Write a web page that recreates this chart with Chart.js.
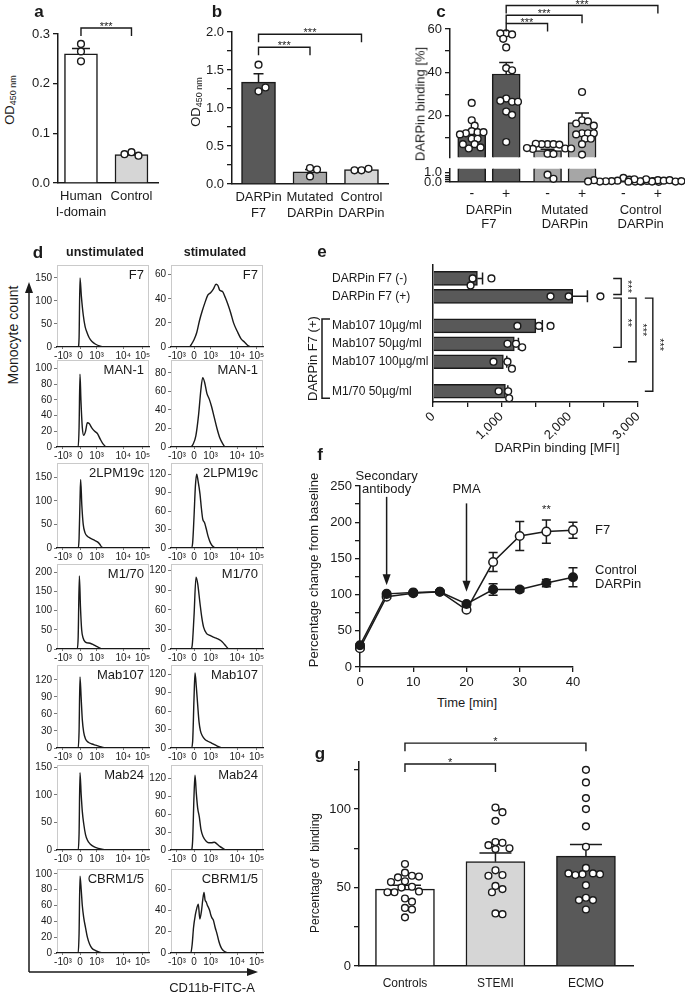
<!DOCTYPE html>
<html>
<head>
<meta charset="utf-8">
<title>DARPin F7 binding to CD11b</title>
<script src="https://cdn.jsdelivr.net/npm/chart.js@4.4.1/dist/chart.umd.min.js"></script>
<style>
  body { margin: 0; width: 685px; height: 996px; position: relative; overflow: hidden; background: #fff; color: #1a1a1a; font-family: "Liberation Sans", Arial, sans-serif; }
  .t { position: absolute; white-space: nowrap; line-height: 1; transform: translate(-50%, -50%); font-size: 13px; }
  .t.up { transform: translate(-50%, -50%) rotate(-90deg); }
  .t.b { font-weight: bold; }
  sub { font-size: 9px; vertical-align: -2px; }
</style>
</head>
<body>
<svg width="685" height="996" style="position:absolute;left:0;top:0">
  <path d="M29 972 V292 M29 972 H248" stroke="#1a1a1a" stroke-width="1.5" fill="none"/>
  <path d="M29 282 L25 293 H33 Z M258 972 L247 968 V976 Z" fill="#1a1a1a"/>
</svg>
<script>
// a - ELISA on the I-domain
const aCats = [['Human', 'I-domain'], 'Control']
const aMeans = [0.26, 0.057]
const aSem = [0.011, 0.003]
const aPoints = [[0.28, 0.265, 0.245], [0.062, 0.055, 0.058]]

// b - DARPin ELISA
const bCats = [['DARPin', 'F7'], ['Mutated', 'DARPin'], ['Control', 'DARPin']]
const bMeans = [1.34, 0.16, 0.19]
const bSem = [0.11, 0.03, 0.01]
const bPoints = [[1.57, 1.22, 1.27], [0.21, 0.1, 0.19], [0.18, 0.2, 0.18]]

// c - binding on unstimulated (-) and stimulated (+) cells
const cGroups = [['DARPin', 'F7'], ['Mutated', 'DARPin'], ['Control', 'DARPin']]
const cSigns = ['-', '+', '-', '+', '-', '+']
const cMeans = [11.8, 39.3, 4.1, 16.9, 0.12, 0.14]
const cSem = [1.5, 5.3, 0.6, 4.4, 0.04, 0.03]
const cPoints = [
  [26, 18, 15.5, 13, 12.5, 12, 12.5, 11.5, 9.5, 9.5, 7, 5, 5.5, 7],
  [58, 57.5, 58, 55.5, 51.5, 42, 41, 28, 26.5, 27, 26.5, 22, 20.5, 8],
  [7, 7, 7, 6.8, 7.2, 5, 4.8, 5.2, 5, 2.6, 2.5, 0.8, 0.35],
  [31, 18, 17.5, 16.5, 15.5, 12, 12, 11.5, 12, 9.5, 9.5, 7, 2.2],
  [0.45, 0.25, 0.15, 0.05, 0.1, 0.05, 0.08, 0.12, 0.05, 0.1, 0.2, 0.02, 0.06],
  [0.2, 0.15, 0.05, 0.2, 0.3, 0.05, 0.08, 0.1, 0.3, 0.12, 0.04, 0.2]
]

// d - flow histograms, [channel, count]; channel is the logicle display scale 0..100
const flowTicks = [6.5, 25, 43, 72, 93]
const flowLabels = ['-10³', '0', '10³', '10⁴', '10⁵']
const histNames = ['F7', 'MAN-1', '2LPM19c', 'M1/70', 'Mab107', 'Mab24', 'CBRM1/5']
const dF7U = [[0, 0], [23, 0], [24, 20], [25, 150], [26.5, 110], [28.5, 70], [30.5, 45], [32.5, 32], [35, 20], [38, 12], [42, 6], [47, 2], [52, 0], [100, 0]]
const dF7S = [[0, 0], [20, 0], [22, 2], [25, 6], [28, 12], [31, 22], [34, 30], [37, 37], [40, 43], [43, 45], [46, 48], [49, 52], [51, 51], [53, 47], [56, 46], [59, 41], [62, 35], [65, 28], [68, 20], [72, 13], [76, 7], [80, 4], [84, 1], [88, 0], [100, 0]]
const dMan1U = [[0, 0], [23, 0], [24, 25], [25, 93], [26, 60], [27.5, 25], [29, 15], [31, 20], [33, 31], [35, 30], [38, 24], [41, 20], [44, 17], [47, 10], [50, 4], [54, 0], [100, 0]]
const dMan1S = [[0, 0], [21, 0], [24, 3], [27, 12], [30, 35], [32.5, 62], [34.5, 75], [36.5, 70], [39, 58], [41.5, 52], [44, 44], [47, 32], [50, 20], [53, 10], [56, 4], [59, 0], [100, 0]]
const dLpmU = [[0, 0], [23, 0], [24, 20], [25, 100], [25.7, 145], [27, 90], [28.5, 50], [30.5, 32], [33, 25], [36, 21], [40, 17], [44, 13], [46.5, 8], [48.5, 2], [51, 0], [100, 0]]
const dLpmS = [[0, 0], [22, 0], [23.5, 8], [25, 50], [26.5, 100], [27.9, 120], [29.5, 108], [31.5, 88], [33, 65], [34.5, 47], [36.5, 41], [38.5, 30], [40.5, 18], [43, 8], [46, 2], [49, 0], [100, 0]]
const dM170U = [[0, 0], [22, 0], [23, 30], [24.3, 190], [25.5, 110], [26.8, 50], [28.5, 28], [30.5, 19], [33, 16], [36, 15], [39, 12], [42, 8], [45, 4], [48, 1], [51, 0], [100, 0]]
const dM170S = [[0, 0], [21.5, 0], [23, 5], [25, 50], [27.2, 110], [29, 100], [31.5, 70], [33.5, 48], [35.5, 33], [38.5, 24], [42, 21], [46, 18], [50, 16], [54, 13], [57, 9], [60, 4], [63, 0], [100, 0]]
const dMab107U = [[0, 0], [23, 0], [24, 30], [25, 125], [26.2, 90], [27.5, 50], [29, 28], [31, 16], [34, 10], [38, 7], [42, 5], [46, 3], [50, 1], [54, 0], [100, 0]]
const dMab107S = [[0, 0], [22, 0], [23.5, 10], [25, 80], [26.1, 122], [27.5, 100], [29, 70], [30.5, 42], [32, 28], [34, 20], [37, 14], [40, 11], [44, 8], [48, 5], [52, 2], [56, 0], [100, 0]]
const dMab24U = [[0, 0], [23, 0], [24, 30], [25, 140], [26.3, 100], [27.5, 70], [29, 48], [31, 28], [33, 18], [36, 11], [40, 6], [45, 3], [50, 1], [55, 0], [100, 0]]
const dMab24S = [[0, 0], [22, 0], [23.5, 15], [25, 90], [26.1, 125], [27.5, 95], [29, 70], [30.8, 55], [32.5, 35], [35, 22], [38, 15], [41, 12], [44, 12], [47, 13], [50, 10], [53, 6], [56, 3], [60, 0], [100, 0]]
const dCbrmU = [[0, 0], [23, 0], [24, 25], [25, 97], [26.3, 80], [27.5, 60], [29, 45], [31, 32], [33, 20], [35.5, 11], [38, 6], [42, 3], [46, 1], [50, 0], [100, 0]]
const dCbrmS = [[0, 0], [21.5, 0], [23, 8], [24.5, 24], [26.5, 36], [28, 42], [29.7, 46], [31.3, 32], [33.2, 40], [34.5, 50], [35.9, 57], [37, 50], [38.3, 48], [39.5, 45], [40.6, 43], [42, 40], [43.2, 36], [44.5, 33], [46, 31], [48, 24], [50, 18], [52, 11], [54, 6], [56, 3], [59, 1], [62, 0], [100, 0]]
const unstimCounts = [dF7U, dMan1U, dLpmU, dM170U, dMab107U, dMab24U, dCbrmU]
const stimCounts = [dF7S, dMan1S, dLpmS, dM170S, dMab107S, dMab24S, dCbrmS]
// [tick step, axis max] of each count axis
const unstimAxis = [[50, 178], [20, 111], [50, 180], [50, 221], [30, 146], [50, 154], [20, 106]]
const stimAxis = [[20, 68], [20, 94], [30, 138], [30, 130], [30, 135], [30, 142], [20, 79]]

// e - MFI with blocking antibodies
const eRows = ['DARPin F7 (-)', 'DARPin F7 (+)', 'Mab107 10µg/ml', 'Mab107 50µg/ml', 'Mab107 100µg/ml', 'M1/70 50µg/ml']
const eMeans = [650, 2045, 1505, 1190, 1030, 1060]
const eSem = [75, 215, 95, 60, 50, 35]
const ePoints = [[580, 550, 855], [1720, 1985, 2450], [1235, 1550, 1720], [1090, 1215, 1305], [885, 1090, 1155], [960, 1100, 1115]]

// f - time course
const fTimes = [0, 5, 10, 15, 20, 25, 30, 35, 40]
const fF7 = [26, 97, 102, 104, 79, 145, 181, 187, 189]
const fF7Sem = [2, 2, 2, 2, 2, 13, 20, 16, 11]
const fCtrl = [30, 101, 103, 104, 87, 107, 107, 116, 124]
const fCtrlSem = [2, 2, 2, 2, 2, 8, 3, 5, 13]

// g - patient groups
const gCats = ['Controls', 'STEMI', 'ECMO']
const gMeans = [49, 66.5, 70]
const gSem = [2.5, 5.5, 7.5]
const gPoints = [
  [65, 59.5, 57.5, 56.5, 57, 54, 53.5, 50.5, 50, 47, 47.5, 47, 43, 41, 37, 36, 31],
  [101, 98, 92.5, 79, 78.5, 77, 75, 74.5, 61, 58, 57.5, 51, 49, 47, 33.5, 33],
  [125, 117, 107, 100, 89, 76, 62.5, 59, 58.5, 58, 58.5, 59, 51.5, 43.5, 42, 42, 36]
]

const FAMILY = '"Liberation Sans", Arial, sans-serif'
const INK = '#1a1a1a'
const DARK = '#595959'
const MID = '#a6a6a6'
const LIGHT = '#d6d6d6'

Chart.defaults.font.family = FAMILY
Chart.defaults.font.size = 13
Chart.defaults.color = INK
Chart.defaults.animation = false
Chart.defaults.responsive = false
Chart.defaults.events = []
Chart.defaults.plugins.legend.display = false
Chart.defaults.plugins.tooltip.enabled = false

const merge = (a, b) => {
  const out = { ...a }
  for (const k in b) {
    const v = b[k]
    out[k] = v && typeof v === 'object' && !Array.isArray(v) ? merge(a[k] || {}, v) : v
  }
  return out
}
const range = (from, to, step) => {
  const out = []
  for (let v = from; v <= to + 1e-9; v += step) out.push(+v.toFixed(6))
  return out
}
const setTicks = values => s => { s.ticks = values.map(value => ({ value })) }

const label = (html, x, y, cls = '', style = '') => {
  const d = document.createElement('div')
  d.className = 't ' + cls
  d.innerHTML = html
  d.style.cssText = `left:${x}px;top:${y}px;${style}`
  document.body.appendChild(d)
}

// canvas placed so that the plot area lands exactly on `area`
const makeChart = (area, pad, config) => {
  const w = area.r - area.l + pad.left + pad.right
  const h = area.b - area.t + pad.top + pad.bottom
  const canvas = document.createElement('canvas')
  canvas.width = w
  canvas.height = h
  canvas.style.cssText = `position:absolute;left:${area.l - pad.left}px;top:${area.t - pad.top}px`
  document.body.appendChild(canvas)
  const o = config.options
  const yw = pad.yw || pad.left
  o.layout = { padding: { top: pad.top, right: pad.right, left: pad.left - yw, bottom: 0 } }
  if (o.scales.x.display === false) o.layout.padding.bottom = pad.bottom
  else o.scales.x.afterFit = s => { s.height = pad.bottom }
  if (o.scales.y.display === false) o.layout.padding.left = pad.left
  else o.scales.y.afterFit = s => { s.width = yw }
  return new Chart(canvas, config)
}

// push dots sideways until they stop overlapping, like a small beeswarm
const swarm = (values, pos, toPx, pxPerPos, flip, gap = 7) => {
  const placed = []
  return values.map(v => {
    const py = toPx(v)
    let off = 0
    for (let k = 0; ; k++) {
      off = (k % 2 ? 1 : -1) * Math.ceil(k / 2) * gap / 2
      if (placed.every(p => Math.hypot(p.off - off, p.py - py) >= gap)) break
    }
    placed.push({ off, py })
    const at = pos + off / pxPerPos
    return flip ? { x: v, y: at } : { x: at, y: v }
  })
}

const drawErr = (chart, i, behind) => {
  const ds = chart.data.datasets[i]
  const e = ds.errorBars
  if (!e || !!e.behind !== behind) return
  const meta = chart.getDatasetMeta(i)
  const horiz = chart.options.indexAxis === 'y'
  const vScale = horiz ? chart.scales.x : chart.scales.y
  const { ctx, chartArea: a } = chart
  ctx.save()
  if (e.clip) { ctx.beginPath(); ctx.rect(a.left, a.top, a.width, a.height); ctx.clip() }
  ctx.strokeStyle = INK
  ctx.lineWidth = 1.5
  meta.data.forEach((el, j) => {
    const p = meta.controller.getParsed(j)
    const v = horiz ? p.x : p.y
    const hi = vScale.getPixelForValue(v + e.sem[j])
    const lo = vScale.getPixelForValue(e.both ? v - e.sem[j] : v)
    const c = horiz ? el.y : el.x
    const w = e.cap / 2
    ctx.beginPath()
    if (horiz) {
      ctx.moveTo(lo, c); ctx.lineTo(hi, c); ctx.moveTo(hi, c - w); ctx.lineTo(hi, c + w)
    } else {
      ctx.moveTo(c, lo); ctx.lineTo(c, hi); ctx.moveTo(c - w, hi); ctx.lineTo(c + w, hi)
      if (e.both) { ctx.moveTo(c - w, lo); ctx.lineTo(c + w, lo) }
    }
    ctx.stroke()
  })
  ctx.restore()
}
const errorBars = {
  id: 'errorBars',
  beforeDatasetDraw (chart, args) { drawErr(chart, args.index, true) },
  afterDatasetDraw (chart, args) { drawErr(chart, args.index, false) }
}

const brackets = {
  id: 'brackets',
  afterDraw (chart, args, opts) {
    const { ctx, scales: { x, y } } = chart
    const drop = 8
    ctx.save()
    ctx.strokeStyle = INK
    ctx.fillStyle = INK
    ctx.lineWidth = 1.4
    ctx.font = `11px ${FAMILY}`
    ctx.textAlign = 'center'
    ;(opts.items || []).forEach(b => {
      ctx.beginPath()
      if (opts.side) {
        const px = x.getPixelForValue(b.level)
        const y1 = y.getPixelForValue(b.from)
        const y2 = y.getPixelForValue(b.to)
        ctx.moveTo(px - drop, y1); ctx.lineTo(px, y1); ctx.lineTo(px, y2); ctx.lineTo(px - drop, y2)
        ctx.stroke()
        ctx.save()
        ctx.translate(px + 3, (y1 + y2) / 2)
        ctx.rotate(Math.PI / 2)
        ctx.fillText(b.text, 0, 0)
        ctx.restore()
      } else {
        const x1 = x.getPixelForValue(b.from)
        const x2 = x.getPixelForValue(b.to)
        const py = y.getPixelForValue(b.level)
        ctx.moveTo(x1, py + drop); ctx.lineTo(x1, py); ctx.lineTo(x2, py); ctx.lineTo(x2, py + drop)
        ctx.stroke()
        ctx.fillText(b.text, (x1 + x2) / 2, py + 2)
      }
    })
    ctx.restore()
  }
}

const xAxis = {
  type: 'linear',
  offset: false,
  border: { display: true, color: INK, width: 1.5 },
  grid: { display: false, drawTicks: false, offset: false },
  ticks: { autoSkip: false, maxRotation: 0, minRotation: 0, includeBounds: false, padding: 6 }
}
const yAxis = {
  type: 'linear',
  offset: false,
  border: { display: true, color: INK, width: 1.5 },
  grid: { display: true, drawOnChartArea: false, drawTicks: true, tickLength: 5, color: INK, lineWidth: 1.3, offset: false },
  ticks: { autoSkip: false, includeBounds: false, padding: 3 }
}
// dots sit on top of the bars (lower order is drawn last)
const dotStyle = { order: 1, pointRadius: 3.4, pointBorderWidth: 1.4, pointBackgroundColor: '#fff', pointBorderColor: INK, clip: false }

const dotBarChart = p => {
  const pxVal = (p.area.b - p.area.t) / (p.yMax - p.yMin)
  const pxPos = (p.area.r - p.area.l) / (p.xMax - p.xMin)
  const dots = p.points.flatMap((vals, i) => swarm(vals, i, v => v * pxVal, pxPos))
  return makeChart(p.area, p.pad, {
    type: 'bar',
    data: {
      datasets: [
        { order: 2, data: p.means.map((y, x) => ({ x, y })), backgroundColor: p.colors, borderColor: INK, borderWidth: 1.5, barThickness: p.barPx, errorBars: { sem: p.sem, cap: p.cap } },
        { type: 'scatter', data: dots, ...dotStyle }
      ]
    },
    options: {
      scales: {
        x: merge(xAxis, { min: p.xMin, max: p.xMax, afterBuildTicks: setTicks(p.cats.map((c, i) => i)), ticks: { callback: (v, i) => p.cats[i], font: { size: p.xFont || 13 }, padding: p.xPad || 6 } }),
        y: merge(yAxis, { min: p.yMin, max: p.yMax, afterBuildTicks: setTicks(p.yTicks), ticks: { callback: p.yFormat } })
      },
      plugins: { brackets: { items: p.brackets } }
    },
    plugins: [errorBars, brackets]
  })
}

// ---------- a
dotBarChart({
  area: { l: 58, t: 34, r: 158, b: 183 }, pad: { left: 30, top: 20, right: 6, bottom: 36 },
  cats: aCats, means: aMeans, sem: aSem, points: aPoints, colors: ['#fff', LIGHT],
  xMin: -0.455, xMax: 1.525, yMin: 0, yMax: 0.3, yTicks: [0, 0.1, 0.2, 0.3], yFormat: v => v.toFixed(1),
  barPx: 33, cap: 18, brackets: [{ from: 0, to: 1, level: 0.312, text: '***' }]
})

// ---------- b
dotBarChart({
  area: { l: 232, t: 32, r: 388, b: 184 }, pad: { left: 36, top: 30, right: 6, bottom: 36 },
  cats: bCats, means: bMeans, sem: bSem, points: bPoints, colors: [DARK, MID, LIGHT],
  xMin: -0.515, xMax: 2.515, yMin: 0, yMax: 2, yTicks: range(0, 2, 0.25), yFormat: v => (v * 4) % 2 ? '' : v.toFixed(1),
  barPx: 34, cap: 10,
  brackets: [{ from: 0, to: 1, level: 1.8, text: '***' }, { from: 0, to: 2, level: 1.97, text: '***' }]
})

// ---------- c (broken y axis: two stacked charts)
const cPos = cMeans.map((m, i) => Math.floor(i / 2) * 2.2 + i % 2)
const cX = { min: -0.63, max: 6.03 }
const cUpper = { l: 450, t: 29, r: 684, b: 160 }
const cLower = { l: 450, t: 166, r: 684, b: 182 }
const cUpperPx = (cUpper.b - cUpper.t) / 59
const cLowerPx = (cLower.b - cLower.t) / 1.45
const cToPx = v => v < 1 ? v * cLowerPx : cLowerPx + 6 + (v - 1) * cUpperPx
const cDots = cPoints.flatMap((vals, i) => swarm(vals, cPos[i], cToPx, (cUpper.r - cUpper.l) / (cX.max - cX.min), false, 6))
const cBars = () => ({
  order: 2,
  data: cMeans.map((y, i) => ({ x: cPos[i], y })),
  backgroundColor: [DARK, DARK, MID, MID, LIGHT, LIGHT], borderColor: INK, borderWidth: 1.5,
  barThickness: 28, clip: 0, errorBars: { sem: cSem, cap: 14, clip: true }
})
makeChart(cUpper, { left: 40, top: 29, right: 1, bottom: 8 }, {
  type: 'bar',
  data: { datasets: [cBars(), { type: 'scatter', data: cDots.filter(d => d.y >= 1), ...dotStyle }] },
  options: {
    scales: {
      x: merge(xAxis, { display: false, min: cX.min, max: cX.max }),
      y: merge(yAxis, { min: 1, max: 60, afterBuildTicks: setTicks(range(10, 60, 10)), ticks: { callback: v => v % 20 ? '' : v } })
    },
    plugins: {
      brackets: {
        items: [
          { from: cPos[1], to: cPos[2], level: 62.5, text: '***' },
          { from: cPos[1], to: cPos[3], level: 66.3, text: '***' },
          { from: cPos[1], to: cPos[5], level: 70.8, text: '***' }
        ]
      }
    }
  },
  plugins: [errorBars, brackets]
})
const groupLabels = {
  id: 'groupLabels',
  afterDraw (chart, args, opts) {
    const { ctx, scales: { x }, chartArea } = chart
    ctx.save()
    ctx.fillStyle = INK
    ctx.font = `13px ${FAMILY}`
    ctx.textAlign = 'center'
    ctx.textBaseline = 'middle'
    opts.groups.forEach((lines, g) => {
      const mid = x.getPixelForValue((opts.pos[2 * g] + opts.pos[2 * g + 1]) / 2)
      lines.forEach((line, k) => ctx.fillText(line, mid, chartArea.bottom + 28 + k * 14))
    })
    ctx.restore()
  }
}
makeChart(cLower, { left: 40, top: 8, right: 1, bottom: 50 }, {
  type: 'bar',
  data: { datasets: [cBars(), { type: 'scatter', data: cDots.filter(d => d.y < 1), ...dotStyle }] },
  options: {
    scales: {
      x: merge(xAxis, { min: cX.min, max: cX.max, afterBuildTicks: setTicks(cPos), ticks: { callback: (v, i) => cSigns[i], font: { size: 14 }, padding: 4 } }),
      y: merge(yAxis, { min: 0, max: 1.45, afterBuildTicks: setTicks(range(0, 1, 0.25)), ticks: { callback: v => v % 1 ? '' : v.toFixed(1) } })
    },
    plugins: { groupLabels: { groups: cGroups, pos: cPos } }
  },
  plugins: [errorBars, groupLabels]
})

// ---------- d
const histBox = {
  id: 'histBox',
  beforeDraw (chart) {
    const { ctx, chartArea: a } = chart
    ctx.save()
    ctx.strokeStyle = '#cacaca'
    ctx.lineWidth = 1
    ctx.strokeRect(a.left + 0.5, a.top + 0.5, a.width - 1, a.height - 1)
    ctx.restore()
  },
  afterDraw (chart, args, opts) {
    const { ctx, chartArea: a } = chart
    ctx.save()
    ctx.fillStyle = INK
    ctx.font = `13px ${FAMILY}`
    ctx.textAlign = 'right'
    ctx.textBaseline = 'top'
    ctx.fillText(opts.text, a.right - 5, a.top + 4)
    ctx.restore()
  }
}
const histChart = (area, counts, step, max, name) => makeChart(area, { left: 28, top: 8, right: 8, bottom: 16 }, {
  type: 'line',
  data: { datasets: [{ data: counts.map(([x, y]) => ({ x, y })), borderColor: INK, borderWidth: 1.4, pointRadius: 0, cubicInterpolationMode: 'monotone' }] },
  options: {
    scales: {
      x: merge(xAxis, {
        min: 0, max: 100, afterBuildTicks: setTicks(flowTicks),
        border: { width: 1.2 },
        grid: { display: true, drawOnChartArea: false, drawTicks: true, tickLength: 2, color: '#777' },
        ticks: { callback: (v, i) => flowLabels[i], font: { size: 10 }, padding: 1 }
      }),
      y: merge(yAxis, {
        min: 0, max, afterBuildTicks: setTicks(range(0, max, step)),
        border: { display: false },
        grid: { tickLength: 3, color: '#777', lineWidth: 1 },
        ticks: { font: { size: 10 }, padding: 2 }
      })
    },
    plugins: { histBox: { text: name } }
  },
  plugins: [histBox]
})
const histCols = [{ l: 57, r: 149 }, { l: 171, r: 263 }]
const histTops = [265, 360, 463, 564, 665, 765, 869]
const histBottoms = [347, 447, 548, 649, 748, 850, 953]
histNames.forEach((name, row) => {
  [[unstimCounts, unstimAxis], [stimCounts, stimAxis]].forEach(([counts, axes], col) => {
    const [step, max] = axes[row]
    histChart({ l: histCols[col].l, r: histCols[col].r, t: histTops[row], b: histBottoms[row] }, counts[row], step, max, name)
  })
})

// ---------- e
const rowGroup = {
  id: 'rowGroup',
  afterDraw (chart, args, opts) {
    const { ctx, scales: { y } } = chart
    const top = y.getPixelForValue(opts.from) - opts.half
    const bottom = y.getPixelForValue(opts.to) + opts.half
    const x = y.left - 10
    ctx.save()
    ctx.strokeStyle = INK
    ctx.lineWidth = 1.5
    ctx.beginPath()
    ctx.moveTo(x + 8, top); ctx.lineTo(x, top); ctx.lineTo(x, bottom); ctx.lineTo(x + 8, bottom)
    ctx.stroke()
    ctx.translate(x - 9, (top + bottom) / 2)
    ctx.rotate(-Math.PI / 2)
    ctx.fillStyle = INK
    ctx.font = `13px ${FAMILY}`
    ctx.textAlign = 'center'
    ctx.textBaseline = 'middle'
    ctx.fillText(opts.text, 0, 0)
    ctx.restore()
  }
}
const eRowPos = eRows.map((r, i) => i + (i > 1 ? 0.65 : 0) + (i > 4 ? 0.65 : 0))
const eArea = { l: 433, t: 265, r: 638, b: 402 }
const eY = { min: -0.75, max: 6.9 }
const ePxPerPos = (eArea.b - eArea.t) / (eY.max - eY.min)
const ePxPerMfi = (eArea.r - eArea.l) / 3000
const eDots = ePoints.flatMap((vals, i) => swarm(vals, eRowPos[i], v => v * ePxPerMfi, ePxPerPos, true))
makeChart(eArea, { left: 133, yw: 101, top: 10, right: 48, bottom: 42 }, {
  type: 'bar',
  data: {
    datasets: [
      { order: 2, data: eMeans.map((x, i) => ({ x, y: eRowPos[i] })), backgroundColor: DARK, borderColor: INK, borderWidth: 1.5, barThickness: 14, errorBars: { sem: eSem, cap: 12 } },
      { type: 'scatter', data: eDots, ...dotStyle }
    ]
  },
  options: {
    indexAxis: 'y',
    scales: {
      x: merge(yAxis, { min: 0, max: 3000, afterBuildTicks: setTicks(range(0, 3000, 500)), ticks: { callback: v => v % 1000 ? '' : v.toLocaleString('en-US'), minRotation: 45, maxRotation: 45, padding: 2 } }),
      y: merge(xAxis, { reverse: true, min: eY.min, max: eY.max, afterBuildTicks: setTicks(eRowPos), ticks: { callback: (v, i) => eRows[i], crossAlign: 'far', padding: 0, font: { size: 12 } } })
    },
    plugins: {
      brackets: {
        side: true,
        items: [
          { from: eRowPos[0], to: eRowPos[1] - 0.1, level: 2754, text: '***' },
          { from: eRowPos[1] + 0.1, to: eRowPos[3] + 0.2, level: 2754, text: '**' },
          { from: eRowPos[1] + 0.1, to: eRowPos[4], level: 2971, text: '***' },
          { from: eRowPos[1] + 0.1, to: eRowPos[5], level: 3217, text: '***' }
        ]
      },
      rowGroup: { from: eRowPos[2], to: eRowPos[5], half: 7, text: 'DARPin F7 (+)' }
    }
  },
  plugins: [errorBars, brackets, rowGroup]
})

// ---------- f
const fArrows = [
  { t: 5, from: 235, to: 113, textAt: 240, lines: ['Secondary', 'antibody'] },
  { t: 20, from: 226, to: 104, textAt: 240, lines: ['PMA'] }
]
const fStars = { t: 35, at: 213, text: '**' }
const fNotes = {
  id: 'fNotes',
  afterDraw (chart) {
    const { ctx, scales: { x, y }, chartArea } = chart
    ctx.save()
    ctx.strokeStyle = INK
    ctx.fillStyle = INK
    ctx.lineWidth = 1.5
    ctx.font = `13px ${FAMILY}`
    ctx.textAlign = 'center'
    fArrows.forEach(a => {
      const px = x.getPixelForValue(a.t)
      const y1 = y.getPixelForValue(a.from)
      const y2 = y.getPixelForValue(a.to)
      ctx.beginPath(); ctx.moveTo(px, y1); ctx.lineTo(px, y2 - 8); ctx.stroke()
      ctx.beginPath(); ctx.moveTo(px, y2); ctx.lineTo(px - 4, y2 - 11); ctx.lineTo(px + 4, y2 - 11); ctx.closePath(); ctx.fill()
      const base = y.getPixelForValue(a.textAt)
      a.lines.forEach((line, k) => ctx.fillText(line, px, base - (a.lines.length - 1 - k) * 13))
    })
    ctx.font = `11px ${FAMILY}`
    ctx.fillText(fStars.text, x.getPixelForValue(fStars.t), y.getPixelForValue(fStars.at))
    ctx.font = `13px ${FAMILY}`
    ctx.textAlign = 'left'
    ctx.textBaseline = 'middle'
    chart.data.datasets.forEach(ds => {
      const last = ds.data[ds.data.length - 1]
      const py = y.getPixelForValue(last.y)
      ds.endLabel.forEach((line, k) => ctx.fillText(line, chartArea.right + 22, py + (k - (ds.endLabel.length - 1) / 2) * 14))
    })
    ctx.restore()
  }
}
makeChart({ l: 360, t: 486, r: 573, b: 667 }, { left: 48, top: 20, right: 80, bottom: 24 }, {
  type: 'line',
  data: {
    datasets: [
      {
        endLabel: ['Control', 'DARPin'], data: fTimes.map((x, i) => ({ x, y: fCtrl[i] })),
        borderColor: INK, borderWidth: 1.5, pointRadius: 4.3, pointBackgroundColor: INK, pointBorderColor: INK, clip: false,
        errorBars: { sem: fCtrlSem, cap: 9, both: true, behind: true }
      },
      {
        endLabel: ['F7'], data: fTimes.map((x, i) => ({ x, y: fF7[i] })),
        borderColor: INK, borderWidth: 1.5, pointRadius: 4.3, pointBorderWidth: 1.5, pointBackgroundColor: '#fff', pointBorderColor: INK, clip: false,
        errorBars: { sem: fF7Sem, cap: 9, both: true, behind: true }
      }
    ]
  },
  options: {
    scales: {
      x: merge(yAxis, { min: 0, max: 40, afterBuildTicks: setTicks(range(0, 40, 10)), ticks: { padding: 3 } }),
      y: merge(yAxis, { min: 0, max: 250, afterBuildTicks: setTicks(range(0, 250, 25)), ticks: { callback: v => v % 50 ? '' : v } })
    }
  },
  plugins: [errorBars, fNotes]
})

// ---------- g
dotBarChart({
  area: { l: 359, t: 762, r: 633, b: 966 }, pad: { left: 40, top: 32, right: 6, bottom: 28 },
  cats: gCats, means: gMeans, sem: gSem, points: gPoints, colors: ['#fff', LIGHT, DARK],
  xMin: -0.508, xMax: 2.52, yMin: 0, yMax: 130, yTicks: range(0, 125, 25), yFormat: v => v % 50 ? '' : v,
  barPx: 59, cap: 32, xFont: 12, xPad: 10,
  brackets: [{ from: 0, to: 1, level: 128.7, text: '*' }, { from: 0, to: 2, level: 142, text: '*' }]
})

// ---------- text around the charts
const big = 'font-size:17px'
label('a', 39, 11, 'b', big)
label('b', 217, 11, 'b', big)
label('c', 441, 11, 'b', big)
label('d', 38, 252, 'b', big)
label('e', 322, 251, 'b', big)
label('f', 320, 454, 'b', big)
label('g', 320, 753, 'b', big)
label('OD<sub>450 nm</sub>', 10, 100, 'up')
label('OD<sub>450 nm</sub>', 196, 102, 'up')
label('DARPin binding [%]', 420, 104, 'up')
label('unstimulated', 105, 252, 'b', 'font-size:12.5px')
label('stimulated', 215, 252, 'b', 'font-size:12.5px')
label('Monocyte count', 13, 335, 'up', 'font-size:14px')
label('CD11b-FITC-A', 212, 987)
label('DARPin binding [MFI]', 557, 447)
label('Percentage change from baseline', 313, 570, 'up')
label('Time [min]', 467, 702)
label('Percentage of&nbsp; binding', 315, 873, 'up', 'font-size:12px')
</script>
</body>
</html>
